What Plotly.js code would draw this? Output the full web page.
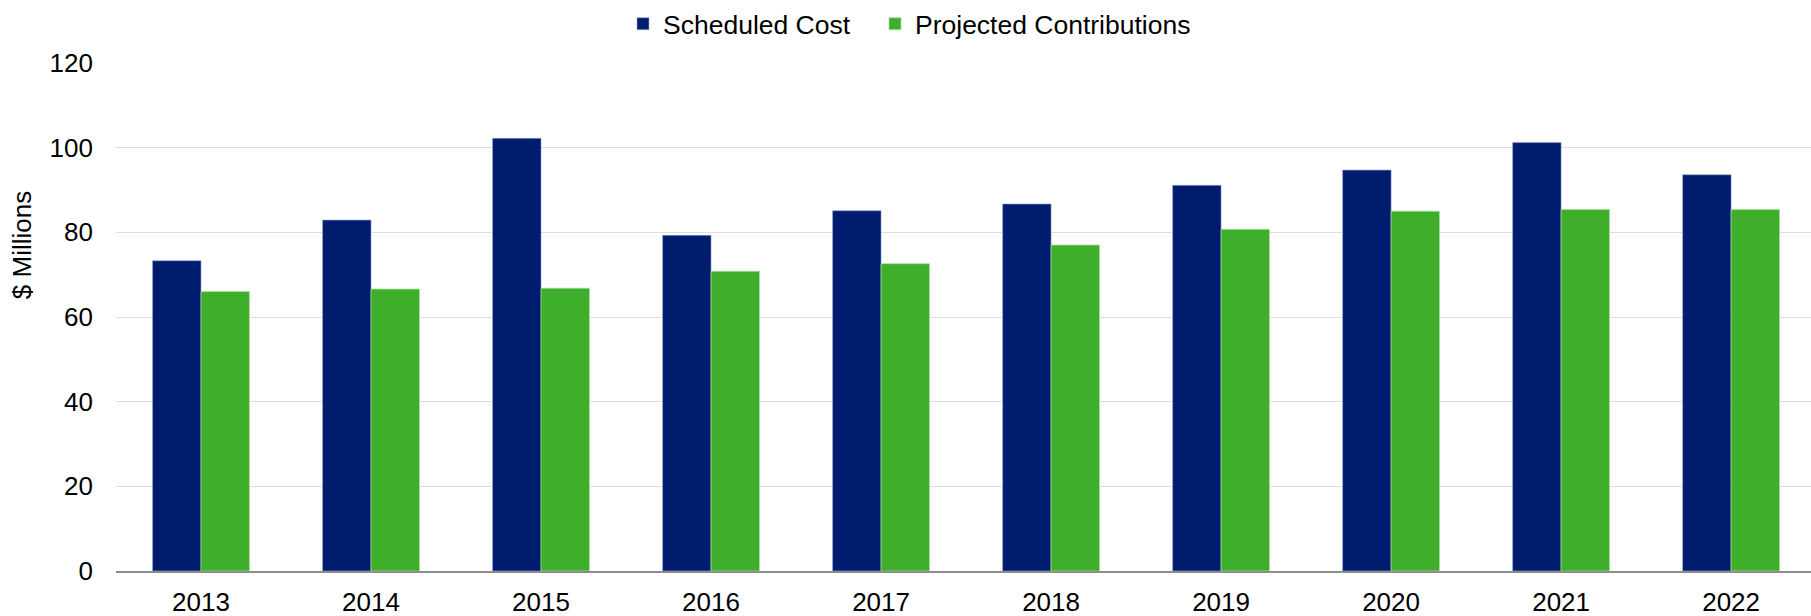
<!DOCTYPE html>
<html>
<head>
<meta charset="utf-8">
<script src="https://cdn.plot.ly/plotly-3.0.1.min.js"></script>
<style>
  html, body { margin: 0; padding: 0; background: #ffffff; }
  #chart { width: 1811px; height: 616px; }
</style>
</head>
<body>
<div id="chart"></div>
<script>
const years = ["2013", "2014", "2015", "2016", "2017", "2018", "2019", "2020", "2021", "2022"];
const scheduledCost = [73.3, 82.9, 102.2, 79.3, 85.1, 86.7, 91.1, 94.7, 101.2, 93.6];
const projectedContributions = [66.0, 66.6, 66.8, 70.8, 72.6, 77.0, 80.7, 85.0, 85.4, 85.4];
const yTicks = [0, 20, 40, 60, 80, 100, 120];

const FONT = "'Liberation Sans', Arial, sans-serif";

const traces = [
  {
    type: "bar",
    name: "Scheduled Cost",
    x: years,
    y: scheduledCost,
    legend: "legend",
    marker: { color: "#001C6E", line: { color: "rgba(150,165,210,0.6)", width: 1 } },
    hoverinfo: "x+y+name"
  },
  {
    type: "bar",
    name: "Projected Contributions",
    x: years,
    y: projectedContributions,
    legend: "legend2",
    marker: { color: "#3FAE2B", line: { color: "rgba(170,225,160,0.7)", width: 1 } },
    hoverinfo: "x+y+name"
  }
];

const legendBase = {
  orientation: "h",
  xanchor: "left",
  yref: "container",
  y: 1.0,
  yanchor: "top",
  font: { family: FONT, size: 26.5, color: "#000000" },
  bgcolor: "rgba(0,0,0,0)",
  itemclick: false,
  itemdoubleclick: false
};

const layout = {
  width: 1811,
  height: 616,
  paper_bgcolor: "#ffffff",
  plot_bgcolor: "#ffffff",
  font: { family: FONT, size: 26, color: "#000000" },
  margin: { l: 116, r: 0, t: 63, b: 45, pad: 0 },
  barmode: "group",
  bargap: 0.43,
  bargroupgap: 0,
  showlegend: true,
  legend: Object.assign({}, legendBase, { x: (623 - 116) / 1695 }),
  legend2: Object.assign({}, legendBase, { x: (875 - 116) / 1695 }),
  xaxis: {
    type: "category",
    range: [-0.5, 9.47],
    showgrid: false,
    showline: true,
    linecolor: "#8C8C8C",
    linewidth: 1.5,
    ticks: "",
    ticklabelstandoff: 7,
    tickfont: { family: FONT, size: 26, color: "#000000" },
    zeroline: false,
    fixedrange: true
  },
  yaxis: {
    range: [0, 120],
    tickvals: yTicks,
    ticktext: yTicks.map(String),
    showgrid: true,
    gridcolor: "#DDDDDD",
    gridwidth: 1.3,
    zeroline: false,
    showline: false,
    ticks: "",
    ticklabelstandoff: 22,
    tickfont: { family: FONT, size: 26, color: "#000000" },
    fixedrange: true
  },
  annotations: [
    {
      text: "$ Millions",
      xref: "paper",
      yref: "paper",
      x: (22 - 116) / 1695,
      y: (570.8 - 245) / 508,
      xanchor: "center",
      yanchor: "middle",
      textangle: -90,
      showarrow: false,
      font: { family: FONT, size: 26, color: "#000000" }
    }
  ]
};

Plotly.newPlot("chart", traces, layout, { displayModeBar: false, staticPlot: false, responsive: false });
</script>
</body>
</html>
